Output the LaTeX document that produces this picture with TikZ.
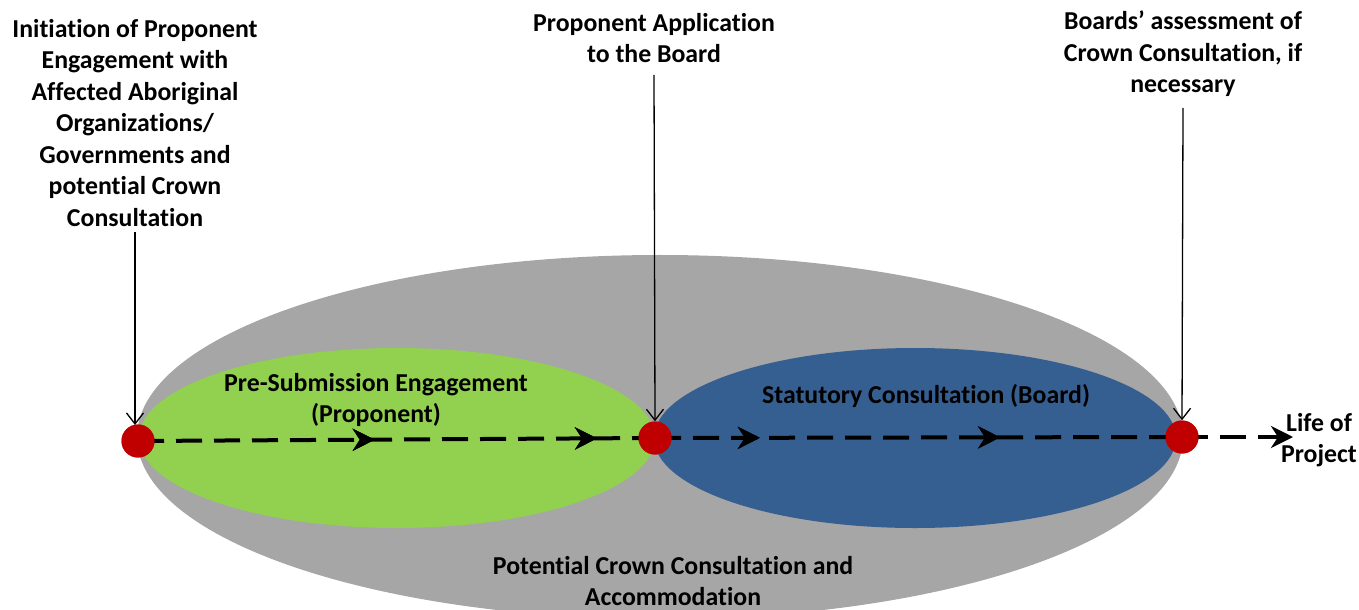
\documentclass[tikz,border=0pt]{standalone}
\usepackage{fontspec}
\setmainfont{Carlito}[Ligatures=NoCommon]
\usetikzlibrary{arrows.meta,shapes.geometric,decorations.markings}
\definecolor{crowngray}{HTML}{A6A6A6}
\definecolor{pregreen}{HTML}{92D050}
\definecolor{statblue}{HTML}{365F91}
\definecolor{dotred}{HTML}{C00000}
\tikzset{
  lbl/.style={align=center, font=\bfseries\fontsize{25.8bp}{31.5bp}\selectfont, inner sep=0pt},
  reddot/.style={circle, fill=dotred, minimum size=33bp, inner sep=0pt},
  zone/.style={ellipse, inner sep=0pt},
  pointer/.style={line width=1.3bp, -{Straight Barb[length=11bp,width=17bp,line width=1.3bp]}},
  flow/.style={line width=4bp, dash pattern=on 26bp off 12bp},
  tipmark/.style={decoration={markings, mark=at position #1 with {\arrow{Stealth[length=22bp,width=22bp,inset=7bp]}}}, postaction={decorate}},
}
\begin{document}
\begin{tikzpicture}[x=1bp,y=-1bp]
\useasboundingbox (0,0) rectangle (1359,610);
\clip (0,0) rectangle (1359,610);
% zones
\node[zone, fill=crowngray, minimum width=1046bp, minimum height=364bp] (crown) at (660,437) {};
\node[zone, fill=pregreen, minimum width=516bp, minimum height=180bp] (pre) at (397,438) {};
\node[zone, fill=statblue, minimum width=522bp, minimum height=180bp] (stat) at (915,438) {};
% zone labels
\node[lbl] (pretext) at (376,400) {Pre-Submission Engagement\\(Proponent)};
\node[lbl] (stattext) at (926,396) {Statutory Consultation (Board)};
\node[lbl] (crowntext) at (673,581) {Potential Crown Consultation and\\Accommodation};
% dots
\node[reddot] (d1) at (138,441) {};
\node[reddot] (d2) at (655,438) {};
\node[reddot] (d3) at (1182,437) {};
\coordinate (endpt) at (1293,437);
% flow line
\draw[flow, tipmark=0.458, tipmark=0.888] (d1.center) -- (d2.center);
\draw[flow, tipmark=0.199, tipmark=0.655] (d2.center) -- (d3.center);
\draw[flow, -{Stealth[length=22bp,width=22bp,inset=7bp]}] (d3.center) -- (endpt);
% redraw dots on top
\node[reddot] at (d1) {};
\node[reddot] at (d2) {};
\node[reddot] at (d3) {};
% top labels
\node[lbl] (t1) at (135,123) {Initiation of Proponent\\Engagement with\\Affected Aboriginal\\Organizations/\\Governments and\\potential Crown\\Consultation};
\node[lbl] (t2) at (654,38) {Proponent Application\\to the Board};
\node[lbl] (t3) at (1183,54) {Boards’ assessment of\\Crown Consultation, if\\necessary};
\node[lbl] (life) at (1319,440) {Life of\\Project};
% pointers
\draw[pointer] (135,232) -- (135,425);
\draw[pointer] (654,75) -- (d2.north);
\draw[pointer] (1183,108) -- (d3.north);
\end{tikzpicture}
\end{document}
